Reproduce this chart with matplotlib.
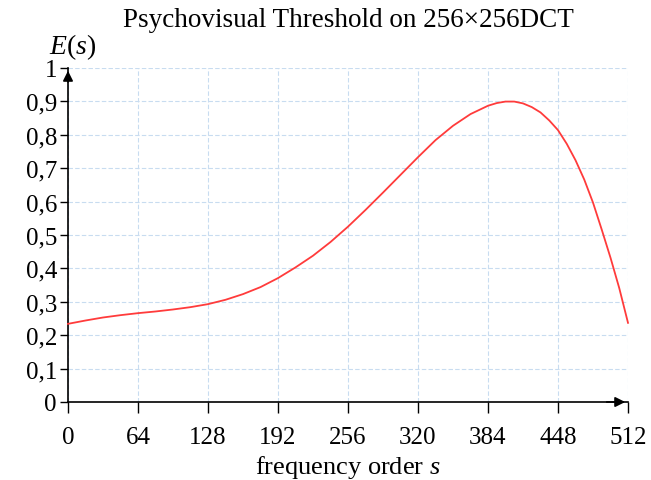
import matplotlib

matplotlib.use("Agg")
import matplotlib.pyplot as plt

# values
order_s = [0, 16, 32, 48, 64, 80, 96, 112, 128, 144, 160, 176, 192, 208, 224,
           240, 256, 272, 288, 304, 320, 336, 352, 368, 384, 392, 400, 408,
           416, 424, 432, 440, 448, 456, 464, 472, 480, 488, 496, 504, 512]
threshold = [0.234, 0.244, 0.253, 0.260, 0.266, 0.271, 0.277, 0.284, 0.293,
             0.306, 0.323, 0.344, 0.371, 0.403, 0.438, 0.479, 0.525, 0.575,
             0.627, 0.680, 0.733, 0.784, 0.827, 0.862, 0.887, 0.895, 0.8995,
             0.8995, 0.894, 0.883, 0.867, 0.843, 0.814, 0.773, 0.724, 0.666,
             0.597, 0.516, 0.432, 0.341, 0.237]

x_ticks = [0, 64, 128, 192, 256, 320, 384, 448, 512]
y_ticks = [0, 0.1, 0.2, 0.3, 0.4, 0.5, 0.6, 0.7, 0.8, 0.9, 1]
y_tick_labels = ["0", "0,1", "0,2", "0,3", "0,4", "0,5", "0,6", "0,7",
                 "0,8", "0,9", "1"]

plt.rcParams["font.family"] = ["Liberation Serif", "DejaVu Serif"]
plt.rcParams["mathtext.fontset"] = "custom"
plt.rcParams["mathtext.rm"] = "Liberation Serif"
plt.rcParams["mathtext.it"] = "Liberation Serif:italic"

fig = plt.figure(figsize=(6.51, 4.81), dpi=100)
ax = fig.add_axes([68 / 651, 1 - 403 / 481, 560 / 651, 334 / 481])

ax.plot(order_s, threshold, color="#ff3b3b", lw=1.3, clip_on=False,
        zorder=3, solid_joinstyle="round")

ax.set_xlim(0, 512)
ax.set_ylim(0, 1)
ax.set_xticks(x_ticks)
ax.set_yticks(y_ticks)
ax.set_yticklabels(y_tick_labels)
ax.tick_params(axis="both", labelsize=18, color="black", width=1)
ax.tick_params(axis="x", length=8, pad=9)
ax.tick_params(axis="y", length=6, pad=2)

ax.grid(True, color="#c8dcf0", linestyle=(0, (4, 2)), lw=0.8)
for spine in ("top", "right"):
    ax.spines[spine].set_visible(False)
for spine in ("left", "bottom"):
    ax.spines[spine].set_linewidth(1.2)

# arrow heads on the axes
ax.annotate("", xy=(512, 0), xytext=(490, 0),
            arrowprops=dict(arrowstyle="-|>", color="black", lw=1.2,
                            mutation_scale=15), annotation_clip=False)
ax.annotate("", xy=(0, 1), xytext=(0, 0.95),
            arrowprops=dict(arrowstyle="-|>", color="black", lw=1.2,
                            mutation_scale=15), annotation_clip=False)

ax.set_title("Psychovisual Threshold on 256×256DCT", fontsize=19.5, pad=30)
ax.set_xlabel("frequency order $s$", fontsize=19, labelpad=4)
ax.text(0.009, 1.064, "$E(s)$", transform=ax.transAxes, fontsize=20,
        ha="center", va="center")

fig.savefig("out.png", dpi=100)
